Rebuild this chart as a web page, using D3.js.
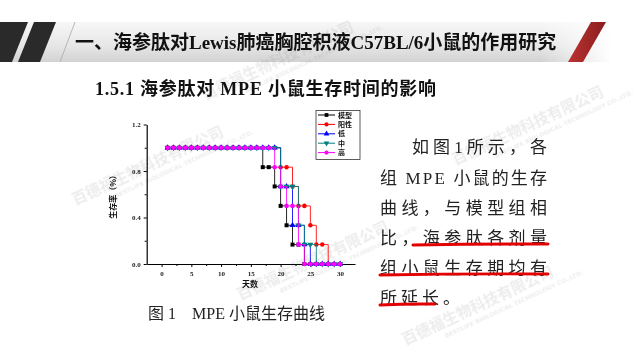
<!DOCTYPE html>
<html><head><meta charset="utf-8">
<script src="https://cdn.jsdelivr.net/npm/d3@7"></script>
<style>
html,body{margin:0;padding:0;background:#fff;}
svg{display:block;}
</style></head>
<body>
<script>
// ---------- data ----------
const days = d3.range(1, 31);
const seriesNames = ["模型", "阳性", "低", "中", "高"];
const seriesColors = ["#000000", "#ff0000", "#0000ff", "#008080", "#ff00ff"];
const seriesSymbols = ["square", "circle", "triangle", "triangleDown", "circle"];
// survival rate by day (days 1..30)
const modelVals    = [1,1,1,1,1,1,1,1,1,1,1,1,1,1,1,1,0.833,0.833,0.667,0.5,0.333,0.167,0.167,0,0,0,0,0,0,0];
const positiveVals = [1,1,1,1,1,1,1,1,1,1,1,1,1,1,1,1,1,1,1,0.833,0.833,0.667,0.5,0.5,0.333,0.167,0.167,0,0,0];
const lowVals      = [1,1,1,1,1,1,1,1,1,1,1,1,1,1,1,1,1,1,1,0.667,0.667,0.333,0.333,0.167,0,0,0,0,0,0];
const midVals      = [1,1,1,1,1,1,1,1,1,1,1,1,1,1,1,1,1,1,1,0.667,0.667,0.667,0.333,0.167,0.167,0,0,0,0,0];
const highVals     = [1,1,1,1,1,1,1,1,1,1,1,1,1,1,1,1,1,1,0.833,0.667,0.5,0.5,0.167,0,0,0,0,0,0,0];
const seriesValues = [modelVals, positiveVals, lowVals, midVals, highVals];
const xTicks = [0, 5, 10, 15, 20, 25, 30];
const xMinor = [2.5, 7.5, 12.5, 17.5, 22.5, 27.5];
const yTicks = [0, 0.4, 0.8, 1.2];
const yMinor = [0.2, 0.6, 1.0];

const titleText = "一、海参肽对Lewis肺癌胸腔积液C57BL/6小鼠的作用研究";
const subTitle = "1.5.1 海参肽对 MPE 小鼠生存时间的影响";
const bodyLines = ["如图1所示，各", "组 MPE 小鼠的生存", "曲线，与模型组相", "比，海参肽各剂量", "组小鼠生存期均有", "所延长。"];
const captionText = "图 1　MPE 小鼠生存曲线";
const xLabel = "天数";
const yLabel = "生存率（%）";
const wmText = "百德福生物科技有限公司";
const wmSub = "BESTLIFE BIOLOGICAL TECHNOLOGY CO.,LTD.";

// ---------- page ----------
const W = 641, H = 361;
const svg = d3.select("body").append("svg").attr("width", W).attr("height", H);
const defs = svg.append("defs");
const serif = "'Liberation Serif','Noto Sans CJK SC',serif";

const bandG = defs.append("linearGradient").attr("id","band").attr("x1",0).attr("y1",0).attr("x2",0).attr("y2",1);
bandG.append("stop").attr("offset","0%").attr("stop-color","#f7f7f7");
bandG.append("stop").attr("offset","60%").attr("stop-color","#e6e6e6");
bandG.append("stop").attr("offset","100%").attr("stop-color","#d2d2d2");
const fadeG = defs.append("linearGradient").attr("id","fade").attr("x1",0).attr("y1",0).attr("x2",1).attr("y2",0);
fadeG.append("stop").attr("offset","0%").attr("stop-color","#fff").attr("stop-opacity",0);
fadeG.append("stop").attr("offset","100%").attr("stop-color","#fff").attr("stop-opacity",1);
const redG = defs.append("linearGradient").attr("id","redg").attr("x1",0).attr("y1",0).attr("x2",1).attr("y2",0);
redG.append("stop").attr("offset","0%").attr("stop-color","#b33");
redG.append("stop").attr("offset","100%").attr("stop-color","#8a1c1c");

svg.append("rect").attr("x",0).attr("y",22).attr("width",612).attr("height",40).attr("fill","url(#band)");
svg.append("rect").attr("x",540).attr("y",22).attr("width",72).attr("height",40).attr("fill","url(#fade)");
svg.append("path").attr("d","M0,22 L28,22 L12,62 L0,62 Z").attr("fill","#2a2a2a");
svg.append("path").attr("d","M34,22 L56,22 L40,62 L18,62 Z").attr("fill","#2a2a2a");
svg.append("path").attr("d","M75,22 L60,62").attr("stroke","#aaa").attr("stroke-width",0.8);
svg.append("path").attr("d","M591,22 L606,22 L583,62 L568,62 Z").attr("fill","url(#redg)");

// watermarks (faint)
const wm = svg.append("g").attr("fill","#888").attr("opacity",0.16).attr("font-family","'Noto Sans CJK SC',sans-serif").attr("font-weight","bold");
[[75,205],[205,100],[240,300],[405,345],[455,165]].forEach(([px,py])=>{
  const g = wm.append("g").attr("transform",`translate(${px},${py}) rotate(-25)`);
  g.append("text").attr("font-size",15).text(wmText);
  g.append("text").attr("x",40).attr("y",11).attr("font-size",6).attr("font-family","'DejaVu Sans',sans-serif").text(wmSub);
});

svg.append("text").attr("x",75).attr("y",49).attr("font-family",serif).attr("font-weight","bold")
  .attr("font-size",19).attr("fill","#111").text(titleText);
svg.append("text").attr("x",95).attr("y",95).attr("font-family",serif).attr("font-weight","bold")
  .attr("font-size",18).attr("fill","#111").attr("textLength",341).attr("lengthAdjust","spacing").text(subTitle);

// ---------- chart ----------
const x = d3.scaleLinear().domain([-2.5, 32.5]).range([146.7, 355]);
const y = d3.scaleLinear().domain([0, 1.2]).range([264, 124.5]);
const chart = svg.append("g");

const xAxis = chart.append("g").attr("transform","translate(0,264)")
  .call(d3.axisBottom(x).tickValues(xTicks).tickSize(3).tickSizeOuter(0).tickFormat(d3.format("d")));
chart.append("g").attr("transform","translate(0,264)")
  .call(d3.axisBottom(x).tickValues(xMinor).tickSize(2).tickSizeOuter(0).tickFormat(""))
  .select(".domain").remove();
chart.append("g").attr("transform","translate(146.7,0)")
  .call(d3.axisLeft(y).tickValues(yTicks).tickSize(3).tickSizeOuter(0).tickFormat(d3.format(".1f")));
chart.append("g").attr("transform","translate(146.7,0)")
  .call(d3.axisLeft(y).tickValues(yMinor).tickSize(2).tickSizeOuter(0).tickFormat(""))
  .select(".domain").remove();
chart.selectAll(".domain").attr("stroke","#000").attr("stroke-width",1.2);
chart.selectAll(".tick line").attr("stroke","#000").attr("stroke-width",1);
chart.selectAll(".tick text").attr("font-family",serif).attr("font-weight","bold").attr("font-size",7).attr("fill","#222");
xAxis.selectAll(".tick text").attr("dy","0.9em");

chart.append("text").attr("x",250).attr("y",287).attr("text-anchor","middle").attr("font-family","'Noto Sans CJK SC',sans-serif")
  .attr("font-weight","bold").attr("font-size",8).attr("fill","#111").text(xLabel);
chart.append("text").attr("transform","translate(116,195) rotate(-90)").attr("text-anchor","middle")
  .attr("font-family","'Noto Sans CJK SC',sans-serif").attr("font-weight","bold").attr("font-size",8).attr("fill","#111").text(yLabel);

const symMap = {square: d3.symbolSquare, circle: d3.symbolCircle, triangle: d3.symbolTriangle, triangleDown: d3.symbolTriangle};
function drawSymbol(sel, type, color, cx, cy, size){
  const p = d3.symbol().type(symMap[type]).size(size)();
  sel.append("path").attr("d",p).attr("fill",color)
    .attr("transform",`translate(${cx},${cy})` + (type==="triangleDown" ? " rotate(180)" : ""));
}

const line = d3.line().curve(d3.curveStepAfter).x((d,i)=>x(days[i])).y(d=>y(d));
seriesValues.forEach((vals, si) => {
  const g = chart.append("g");
  g.append("path").attr("d", line(vals)).attr("fill","none").attr("stroke",seriesColors[si]).attr("stroke-width",1).attr("opacity",0.85);
  vals.forEach((v, i) => drawSymbol(g, seriesSymbols[si], seriesColors[si], x(days[i]), y(v), 16));
});

// legend
const lg = chart.append("g");
lg.append("rect").attr("x",316).attr("y",110.5).attr("width",44).attr("height",49).attr("fill","#fff").attr("stroke","#333").attr("stroke-width",0.8);
seriesNames.forEach((n, i) => {
  const ly = 115 + i*9.4;
  lg.append("line").attr("x1",318).attr("x2",335).attr("y1",ly).attr("y2",ly).attr("stroke",seriesColors[i]).attr("stroke-width",1);
  drawSymbol(lg, seriesSymbols[i], seriesColors[i], 326.5, ly, 14);
  lg.append("text").attr("x",338).attr("y",ly+2.6).attr("font-family","'Noto Sans CJK SC',sans-serif").attr("font-weight","bold")
    .attr("font-size",7).attr("fill","#111").text(n);
});

// caption
svg.append("text").attr("x",148).attr("y",319).attr("font-family",serif).attr("font-size",16).attr("fill","#222").text(captionText);

// body text
const lineY = [153, 184, 214, 244, 274, 304];
bodyLines.forEach((t, i) => {
  const x0 = i === 0 ? 412 : 380;
  const tx = svg.append("text").attr("x",x0).attr("y",lineY[i]).attr("font-family",serif).attr("font-size",17).attr("fill","#222").text(t);
  if (i < 5) tx.attr("textLength", 547 - x0).attr("lengthAdjust","spacing");
  else tx.attr("letter-spacing", 4);
});
const ul = [[413,548,244],[380,548,274],[380,435,304]];
ul.forEach(([a,b,yy]) => svg.append("path").attr("d",`M${a},${yy+1} Q${(a+b)/2},${yy-0.5} ${b},${yy}`)
  .attr("stroke","#e30000").attr("stroke-width",3).attr("fill","none").attr("stroke-linecap","round"));
</script>
</body></html>
